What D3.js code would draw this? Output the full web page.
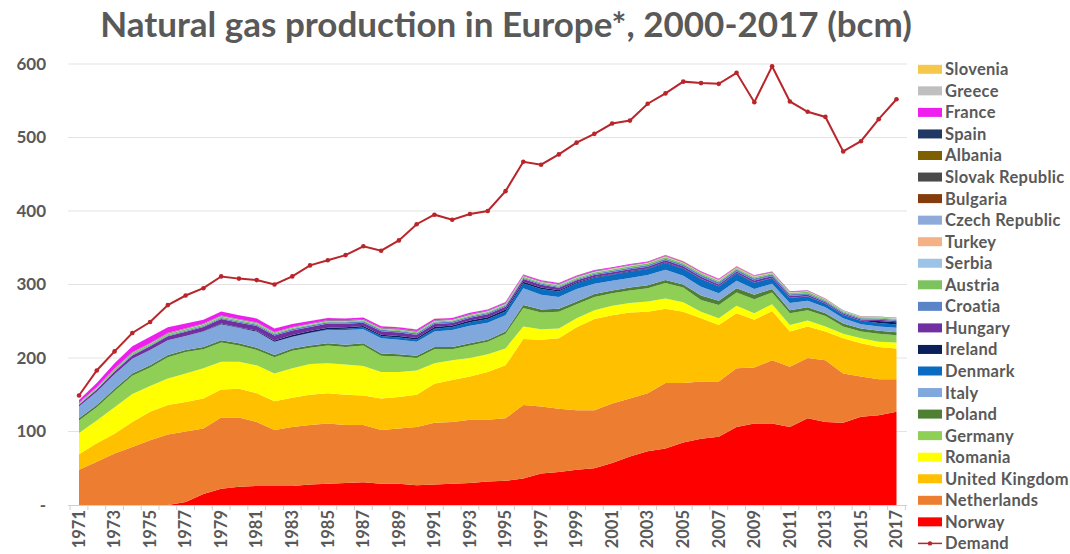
<!DOCTYPE html>
<html><head><meta charset="utf-8">
<script src="https://cdn.jsdelivr.net/npm/d3@7"></script>
<style>
html,body{margin:0;padding:0;background:#fff;}
svg{display:block;font-family:Lato,"Open Sans",sans-serif;}
</style></head><body>
<svg id="chart" width="1070" height="554"></svg>
<script>
// ---------- DATA (bcm) ----------
const years = [1971,1972,1973,1974,1975,1976,1977,1978,1979,1980,1981,1982,1983,1984,1985,1986,1987,1988,1989,1990,
  1991,1992,1993,1994,1995,1996,1997,1998,1999,2000,2001,2002,2003,2004,2005,2006,2007,2008,2009,2010,
  2011,2012,2013,2014,2015,2016,2017];
const xTickLabels = [1971,1973,1975,1977,1979,1981,1983,1985,1987,1989,1991,1993,1995,1997,1999,2001,2003,2005,2007,2009,2011,2013,2015,2017];
const yTickValues = [0,100,200,300,400,500,600];

const norway      = [0,0,0,0,0,0,4,15,22,25, 26,26,26,28,29,30,31,29,29,27, 28,29,30,32,33,36,43,45,48,50, 57,66,73,77,85,90,93,106,111,111, 106,118,113,112,120,122,127];
const netherlands = [48,59,70,79,88,96,96,89,97,94, 87,76,80,81,82,79,78,73,75,79, 84,84,86,84,85,100,91,86,81,79, 81,79,79,89,81,78,75,80,76,86, 82,82,84,67,55,49,44];
const unitedKingdom = [21,25,27,34,39,40,40,41,38,39, 39,39,40,41,41,41,40,43,43,44, 53,57,59,65,72,90,91,96,113,124, 120,117,111,101,97,86,77,75,65,67, 48,43,39,48,45,44,42];
const romania     = [29,31,36,38,35,36,39,41,38,37, 38,38,40,42,41,41,40,36,34,33, 28,27,25,24,23,17,14,13,12,12, 13,13,14,14,13,9,9,10,9,9, 9,8,7,6,7,7,8];
const germany     = [17,18,22,25,25,29,29,26,26,22, 21,22,24,22,24,24,28,22,21,17, 19,15,17,17,20,25,23,23,19,18, 17,17,18,21,20,16,18,18,19,16, 16,14,14,10,9,11,10];
const poland      = [3,3,3,3,3,3,3,3,3,3, 3,3,3,3,3,3,3,3,3,3, 3,3,3,3,3,4,4,4,4,4, 4,4,4,4,4,6,6,6,6,5, 4,4,4,4,4,4,4];
const italy       = [16,18,20,20,21,20,19,21,22,21, 22,18,16,17,18,20,19,21,20,19, 21,23,24,23,22,23,20,16,17,14, 13,13,14,14,12,12,10,10,8,7, 10,9,8,7,6,6,6];
const denmark     = [0,0,0,0,0,0,0,0,0,0, 0,0,0,0.4,1.0,1.8,2.5,2.8,3.0,3.1, 3.9,4.2,4.5,4.9,5.3,6.3,7.8,7.6,7.8,8.1, 8.3,8.4,8.0,9.4,9.5,10.4,9.2,10.1,8.4,7.5, 6.6,5.8,4.8,4.6,4.6,4.5,4.6];
const ireland     = [0,0,0,0,0,0,0,0.3,0.9,0.9, 1.2,1.8,2.2,2.3,2.3,2.2,2.0,2.0,2.1,2.2, 2.3,2.0,2.4,2.6,2.7,2.4,2.0,1.6,1.1,1.1, 0.7,0.8,0.7,0.9,0.5,0.4,0.4,0.4,0.3,0.3, 0.3,0.3,0.2,0.2,0.1,2.9,3.1];
const hungary     = [2.5,3.0,3.8,4.5,5.0,5.5,5.8,5.9,6.0,6.1, 6.5,6.8,6.3,5.5,5.5,4.5,4.6,4.5,4.6,4.3, 4.2,3.5,3.8,4.0,3.7,3.7,3.7,3.3,2.9,2.8, 2.8,2.7,2.6,2.7,2.9,2.9,2.4,2.3,2.9,2.5, 2.4,2.0,1.8,1.7,1.7,1.7,1.7];
const croatia     = [0.3,0.4,0.6,0.8,1.0,1.1,1.2,1.3,1.4,1.5, 1.7,1.8,1.9,2.0,2.0,2.0,2.0,2.0,2.0,2.0, 1.9,1.8,1.8,1.8,1.7,1.6,1.7,1.6,1.5,1.6, 1.8,2.0,2.1,2.2,2.3,2.7,2.9,2.7,2.7,2.5, 2.5,2.0,1.8,1.7,1.8,1.7,1.6];
const austria     = [1.3,1.6,1.8,2.0,2.1,2.0,2.0,1.9,1.9,1.9, 1.7,1.5,1.3,1.2,1.2,1.1,1.1,1.2,1.3,1.3, 1.3,1.4,1.4,1.4,1.4,1.4,1.4,1.5,1.6,1.8, 1.8,2.0,2.1,2.0,1.6,1.8,1.8,1.5,1.6,1.5, 1.7,1.9,1.5,1.3,1.2,1.2,1.2];
const serbia      = [0.2,0.2,0.2,0.2,0.2,0.3,0.3,0.3,0.3,0.3, 0.4,0.4,0.4,0.4,0.4,0.4,0.4,0.4,0.4,0.4, 0.6,0.6,0.6,0.6,0.6,0.6,0.6,0.6,0.6,0.6, 0.5,0.5,0.5,0.5,0.5,0.5,0.5,0.5,0.4,0.4, 0.4,0.4,0.4,0.4,0.4,0.4,0.4];
const turkey      = [0,0,0,0,0,0.1,0.1,0.1,0.1,0.1, 0.1,0.1,0.1,0.1,0.1,0.1,0.1,0.1,0.1,0.1, 0.2,0.2,0.2,0.2,0.2,0.2,0.2,0.5,0.5,0.5, 0.5,0.5,0.5,0.5,0.5,0.5,0.9,0.9,0.9,0.7, 0.7,0.7,0.5,0.5,0.5,0.5,0.5];
const czechRepublic = [0.5,0.5,0.5,0.5,0.5,0.5,0.5,0.5,0.5,0.5, 0.3,0.3,0.3,0.3,0.3,0.3,0.3,0.3,0.3,0.3, 0.3,0.3,0.3,0.3,0.3,0.2,0.2,0.2,0.2,0.2, 0.2,0.2,0.2,0.2,0.2,0.2,0.2,0.2,0.2,0.2, 0.2,0.2,0.2,0.2,0.2,0.2,0.2];
const bulgaria    = [0.1,0.1,0.1,0.1,0.1,0.1,0.1,0.1,0.1,0.1, 0.1,0.1,0.1,0.1,0.1,0.1,0.1,0.1,0.1,0.1, 0.1,0.1,0.1,0.1,0.1,0.1,0.1,0.1,0.1,0.1, 0.1,0.1,0.1,0.3,0.3,0.3,0.3,0.3,0.3,0.3, 0.3,0.3,0.3,0.1,0.1,0.1,0.1];
const slovakRepublic = [0.4,0.4,0.4,0.4,0.4,0.4,0.4,0.4,0.4,0.4, 0.3,0.3,0.3,0.3,0.3,0.3,0.3,0.3,0.3,0.3, 0.3,0.3,0.3,0.3,0.3,0.2,0.2,0.2,0.2,0.2, 0.2,0.2,0.2,0.2,0.2,0.2,0.2,0.2,0.2,0.2, 0.1,0.1,0.1,0.1,0.1,0.1,0.1];
const albania     = [0.2,0.2,0.2,0.2,0.2,0.2,0.2,0.2,0.2,0.2, 0.2,0.2,0.2,0.2,0.2,0.2,0.2,0.2,0.2,0.2, 0.05,0.05,0.05,0.05,0.05,0.05,0.05,0.05,0.05,0.05, 0.05,0.05,0.05,0.05,0.05,0.05,0.05,0.05,0.05,0.05, 0.05,0.05,0.05,0.05,0.05,0.05,0.05];
const spain       = [0,0,0,0,0,0,0,0,0,0, 0,0,0,0.3,0.3,0.3,0.3,0.3,0.3,0.3, 0.3,0.3,0.3,0.3,0.5,0.5,0.5,0.5,0.5,0.5, 0.3,0.3,0.3,0.3,0.3,0.1,0.1,0.1,0.1,0.1, 0.1,0.1,0.1,0.1,0.1,0.1,0.1];
const france      = [3.5,5.6,7.4,8.3,8.5,7.8,6.4,5.1,5.3,5.0, 5.4,5.0,4.0,3.2,2.8,2.4,2.2,2.0,2.2,2.3, 2.0,1.8,1.8,1.6,1.5,1.5,1.5,1.4,1.3,1.2, 1.2,1.1,1.0,1.0,0.9,0.9,0.8,0.7,0.7,0.6, 0.5,0.4,0.3,0.02,0.02,0.02,0.02];
const greece      = [0,0,0,0,0,0,0,0,0,0, 0.1,0.1,0.1,0.1,0.1,0.1,0.1,0.1,0.1,0.1, 0.1,0.1,0.1,0.1,0.1,0.1,0.1,0.1,0.05,0.05, 0.05,0.05,0.05,0.05,0.05,0.05,0.05,0.05,0.05,0.05, 0.05,0.05,0.05,0.05,0.05,0.05,0.05];
const slovenia    = [0,0,0,0,0,0,0,0,0,0, 0.03,0.03,0.03,0.03,0.03,0.03,0.03,0.03,0.03,0.03, 0.03,0.03,0.03,0.03,0.03,0.03,0.03,0.03,0.03,0.03, 0.03,0.03,0.03,0.03,0.03,0.03,0.03,0.03,0.03,0.03, 0.03,0.03,0.03,0.03,0.03,0.03,0.03];
const demand      = [149,183,209,234,249,272,285,295,311,308, 306,300,311,326,333,340,352,346,360,382, 395,388,396,400,427,467,463,477,493,505, 519,523,546,560,576,574,573,588,548,597, 549,535,528,481,495,525,552];

// stack order, bottom to top
const seriesList = [
  {name:"Norway", values:norway, color:"#ff0000"},
  {name:"Netherlands", values:netherlands, color:"#ed7d31"},
  {name:"United Kingdom", values:unitedKingdom, color:"#ffc000"},
  {name:"Romania", values:romania, color:"#ffff00"},
  {name:"Germany", values:germany, color:"#8fcf55"},
  {name:"Poland", values:poland, color:"#4f7f33"},
  {name:"Italy", values:italy, color:"#80a8dc"},
  {name:"Denmark", values:denmark, color:"#0a6cc0"},
  {name:"Ireland", values:ireland, color:"#0a1f5c"},
  {name:"Hungary", values:hungary, color:"#7030a0"},
  {name:"Croatia", values:croatia, color:"#5b84c8"},
  {name:"Austria", values:austria, color:"#7cc25e"},
  {name:"Serbia", values:serbia, color:"#9dc3e6"},
  {name:"Turkey", values:turkey, color:"#f4b183"},
  {name:"Czech Republic", values:czechRepublic, color:"#8eaadb"},
  {name:"Bulgaria", values:bulgaria, color:"#843c0c"},
  {name:"Slovak Republic", values:slovakRepublic, color:"#4a4a4a"},
  {name:"Albania", values:albania, color:"#7f6000"},
  {name:"Spain", values:spain, color:"#1f3864"},
  {name:"France", values:france, color:"#ee1fee"},
  {name:"Greece", values:greece, color:"#bfbfbf"},
  {name:"Slovenia", values:slovenia, color:"#f5c84c"}
];
const demandColor = "#b8262c";

// ---------- CHART ----------
const svg = d3.select("#chart");
const textColor = "#595959";

const x = d3.scalePoint().domain(years).range([79, 896.5]);
const y = d3.scaleLinear().domain([0, 600]).range([505, 64]);
const step = x.step();
const gridLeft = 68, gridRight = 907;

// title
svg.append("text")
  .attr("x", 506).attr("y", 37)
  .attr("text-anchor", "middle")
  .attr("font-size", 35).attr("font-weight", 700)
  .attr("fill", textColor)
  .text("Natural gas production in Europe*, 2000-2017 (bcm)");

// gridlines
svg.append("g").selectAll("line")
  .data(yTickValues.filter(d => d > 0))
  .join("line")
  .attr("x1", gridLeft).attr("x2", gridRight)
  .attr("y1", d => y(d)).attr("y2", d => y(d))
  .attr("stroke", "#e3e3e3").attr("stroke-width", 1);

// y labels
svg.append("g").selectAll("text")
  .data(yTickValues)
  .join("text")
  .attr("x", 46).attr("y", d => y(d))
  .attr("dy", "0.35em")
  .attr("text-anchor", "end")
  .attr("font-size", 17).attr("font-weight", 700)
  .attr("fill", textColor)
  .text(d => d === 0 ? "-" : d);

// stacked areas
const table = years.map((yr, i) => {
  const row = {year: yr};
  seriesList.forEach(s => row[s.name] = s.values[i]);
  return row;
});
const stack = d3.stack().keys(seriesList.map(s => s.name));
const stacked = stack(table);
const area = d3.area()
  .x(d => x(d.data.year))
  .y0(d => y(d[0]))
  .y1(d => y(d[1]));
svg.append("g").selectAll("path")
  .data(stacked)
  .join("path")
  .attr("d", area)
  .attr("fill", (d, i) => seriesList[i].color);

// x axis line + ticks
svg.append("line")
  .attr("x1", gridLeft).attr("x2", gridRight)
  .attr("y1", y(0) + 0.5).attr("y2", y(0) + 0.5)
  .attr("stroke", "#d0d0d0");
const tickXs = years.map(yr => x(yr) - step / 2).concat([x(years[years.length - 1]) + step / 2]);
svg.append("g").selectAll("line")
  .data(tickXs)
  .join("line")
  .attr("x1", d => d).attr("x2", d => d)
  .attr("y1", y(0)).attr("y2", y(0) + 5)
  .attr("stroke", "#d0d0d0");

// x labels
svg.append("g").selectAll("text")
  .data(xTickLabels)
  .join("text")
  .attr("transform", d => `translate(${x(d)},510) rotate(-90)`)
  .attr("dy", "0.35em")
  .attr("text-anchor", "end")
  .attr("font-size", 16.5).attr("font-weight", 700)
  .attr("fill", textColor)
  .text(d => d);

// demand line
const line = d3.line().x((d, i) => x(years[i])).y(d => y(d));
svg.append("path")
  .datum(demand)
  .attr("d", line)
  .attr("fill", "none")
  .attr("stroke", demandColor)
  .attr("stroke-width", 2);
svg.append("g").selectAll("circle")
  .data(demand)
  .join("circle")
  .attr("cx", (d, i) => x(years[i]))
  .attr("cy", d => y(d))
  .attr("r", 2.3)
  .attr("fill", demandColor);

// legend
const legendItems = seriesList.slice().reverse().map(s => ({name: s.name, color: s.color, type: "area"}))
  .concat([{name: "Demand", color: demandColor, type: "line"}]);
const lg = svg.append("g");
const rows = lg.selectAll("g")
  .data(legendItems)
  .join("g")
  .attr("transform", (d, i) => `translate(918,${69.3 + i * 21.55})`);
rows.filter(d => d.type === "area").append("rect")
  .attr("x", 0).attr("y", -4.5).attr("width", 24).attr("height", 9)
  .attr("fill", d => d.color);
rows.filter(d => d.type === "line").append("line")
  .attr("x1", 0).attr("x2", 24).attr("y1", 0).attr("y2", 0)
  .attr("stroke", d => d.color).attr("stroke-width", 1.5);
rows.filter(d => d.type === "line").append("circle")
  .attr("cx", 12).attr("cy", 0).attr("r", 2.2)
  .attr("fill", d => d.color);
rows.append("text")
  .attr("x", 27).attr("y", 0).attr("dy", "0.36em")
  .attr("font-size", 16.5).attr("font-weight", 700)
  .attr("letter-spacing", 0.3)
  .attr("fill", textColor)
  .text(d => d.name);
</script>
</body></html>
